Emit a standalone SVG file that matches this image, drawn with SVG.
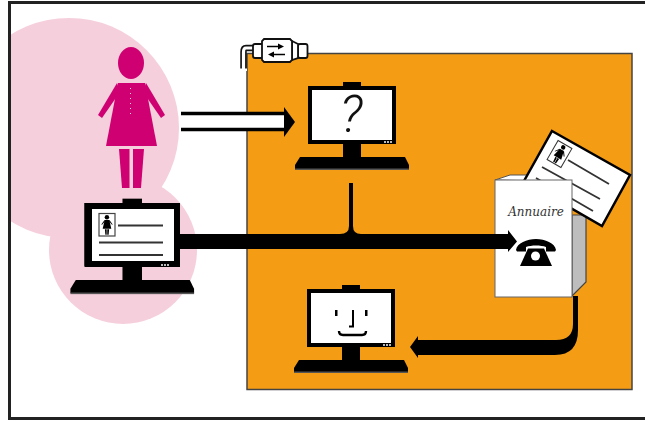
<svg xmlns="http://www.w3.org/2000/svg" xmlns:xlink="http://www.w3.org/1999/xlink" width="645" height="421" viewBox="0 0 645 421">
<style>
.k{fill:#000}
.ln{stroke:#333;stroke-width:1.800;fill:none}
.pink{fill:#f6cfdd}
.mag{fill:#cf0072}
.scr{fill:#fff}
.dev{fill:#fff;stroke:#111;stroke-width:1.800}
</style>
<defs>
<clipPath id="frameClip"><rect x="9" y="3" width="640" height="416"/></clipPath>
<g id="monitor">
<rect class="k" x="35" y="-4" width="18" height="5"/>
<rect class="k" x="35" y="57" width="18" height="15"/>
<rect class="k" x="0" y="0" width="88" height="58"/>
<rect class="scr" x="4" y="4" width="80" height="50"/>
<line x1="76" y1="56" x2="85" y2="56" stroke="#bbb" stroke-width="2" stroke-dasharray="2 1"/>
<path class="k" d="M-8 71H97L101 79V83H-13V79Z"/>
<rect x="-13" y="82.500" width="114" height="1.500" fill="#555"/>
</g>
<g id="person">
<ellipse cx="131" cy="63" rx="13" ry="16"/>
<path d="M118 83H145L157 146H106Z"/>
<path d="M117 83L98 115L102 118L120 92Z"/>
<path d="M146 83L165 115L161 118L143 92Z"/>
<path d="M119 149H129.500V188H122Z"/>
<path d="M133 149H144L141 188H133Z"/>
</g>
</defs>
<rect width="645" height="421" fill="#fff"/>
<g clip-path="url(#frameClip)">
<circle class="pink" cx="69" cy="128" r="110"/>
<circle class="pink" cx="123" cy="250" r="74"/>
</g>
<rect x="247" y="53.500" width="385" height="336" fill="#f49c14" stroke="#444" stroke-width="1.500"/>
<path d="M649 2.500H9.500V418.500H649" fill="none" stroke="#222" stroke-width="3"/>

<g id="gateway">
<path d="M253 48H246Q243.500 48 243.500 52V71" fill="none" stroke="#111" stroke-width="6.500"/>
<path d="M253 48H246Q243.500 48 243.500 52V71" fill="none" stroke="#fff" stroke-width="3.200"/>
<rect x="239" y="68.500" width="8" height="2.500" fill="#fff"/>
<rect class="dev" x="253" y="44" width="10" height="14" rx="2"/>
<rect class="dev" x="298" y="44" width="9.500" height="14" rx="2"/>
<path class="dev" d="M292 41L298 44V58L292 60Z"/>
<path class="dev" d="M264 39H290L292 41V60L290 62H264L262 60V41Z"/>
<path d="M267 46.500H279" stroke="#000" stroke-width="1.500"/>
<path class="k" d="M278 43.500L284 46.500L278 49.500Z"/>
<path d="M273 54.500H285" stroke="#000" stroke-width="1.500"/>
<path class="k" d="M274 51.500L268 54.500L274 57.500Z"/>
</g>

<g id="user">
<use href="#person" class="mag"/>
<line x1="130.500" y1="88" x2="130.500" y2="114" stroke="#f6cfdd" stroke-width="1" stroke-dasharray="1 4"/>
</g>

<g id="monitor-user">
<use href="#monitor" transform="translate(84.500 203) scale(1.085)"/>
<rect class="k" x="84.500" y="203" width="95.500" height="64"/>
<rect class="scr" x="92" y="209" width="82" height="52"/>
<line x1="161" y1="265" x2="170" y2="265" stroke="#bbb" stroke-width="2" stroke-dasharray="2 1"/>
<rect x="99" y="213.500" width="16" height="22.500" fill="#fff" stroke="#444" stroke-width="1.200"/>
<use href="#person" class="k" transform="translate(107 224.700) scale(0.17 0.14) translate(-131.500 -117)"/>
<path class="ln" d="M118 225.500H163M99 242.500H163M99 255H163"/>
</g>

<g id="monitor-question">
<use href="#monitor" transform="translate(308 86)"/>
<text x="351" y="132" font-family="Roboto,'Liberation Sans',sans-serif" font-style="italic" font-weight="300" font-size="52" text-anchor="middle" fill="#111">?</text>
</g>

<g id="monitor-smile">
<use href="#monitor" transform="translate(307 289)"/>
<rect class="k" x="335" y="310" width="2.500" height="6"/>
<rect class="k" x="365" y="310" width="2.500" height="6"/>
<path d="M353 310V326.500H349" fill="none" stroke="#000" stroke-width="2"/>
<path d="M339 331Q339 335 343 335H362Q366 335 366 331" fill="none" stroke="#000" stroke-width="2.400"/>
</g>

<g id="directory">
<path d="M572 215H586V282L572 296Z" fill="#bdbdbd" stroke="#444" stroke-width="1.200"/>
<path d="M495 180L510 175H532L540 181Z" fill="#fff" stroke="#555" stroke-width="1"/>
<g id="card">
<path d="M552 131L630 175L602 226L524 181Z" fill="#fff" stroke="#000" stroke-width="2.500"/>
<path class="ln" d="M568 160L609 184M542 167L600 199M536 178L593 211"/>
<g transform="translate(559.500 154) rotate(30)">
<rect x="-8" y="-11" width="16" height="22" fill="#fff" stroke="#333" stroke-width="1"/>
<use href="#person" class="k" transform="scale(0.17 0.14) translate(-131.500 -117)"/>
</g>
</g>
<rect x="495" y="180" width="77" height="117" fill="#fff" stroke="#666" stroke-width="1"/>
<text x="536" y="216" font-family="'DejaVu Serif',serif" font-style="italic" font-size="12" text-anchor="middle" fill="#333">Annuaire</text>
<g id="phone">
<path class="k" d="M516 250C517 243 527 239 536 239C545 239 555 243 556 250L555 251.500H546V247C541 245 531 245 526 247V251.500H517Z"/>
<path class="k" d="M528 248.500H544L552 266H520Z"/>
<circle cx="535.500" cy="256" r="4.500" fill="#fff"/>
</g>
</g>

<g id="connectors">
<path d="M181 121.500H286" stroke="#fff" stroke-width="16"/>
<path d="M181 113.500H285M181 129.500H285" stroke="#000" stroke-width="3.500"/>
<path class="k" d="M284 107L295 122L284 137Z"/>
<path class="k" d="M349 183H353V226Q353 234 361 234H508V230L517 241.500L508 252V249H180V234H340Q349 234 349 226Z"/>
<path class="k" d="M573 296H578V330Q578 355 555 355H418V358L410 347L418 336V340H556Q573 340 573 324Z"/>
</g>
</svg>
